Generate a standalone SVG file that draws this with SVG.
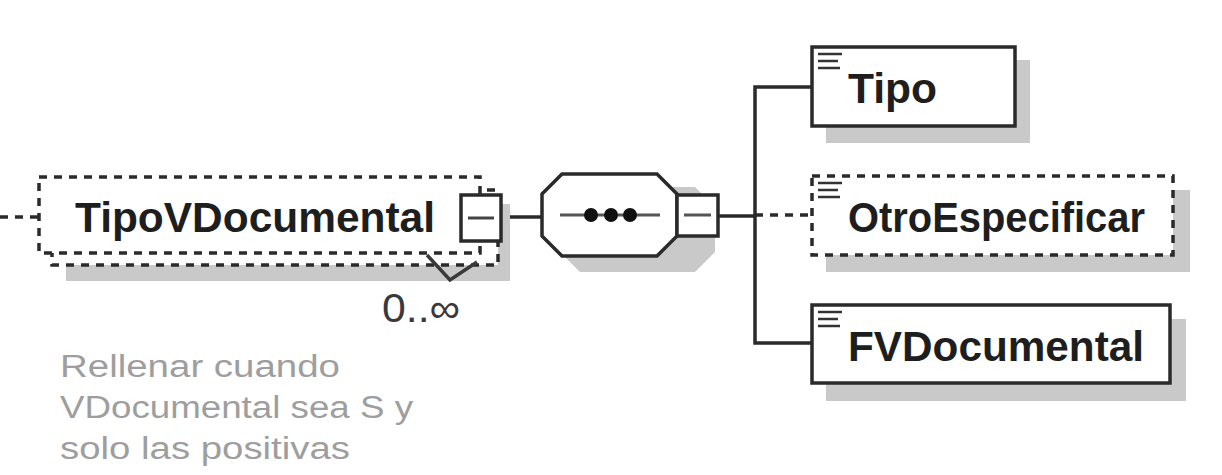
<svg xmlns="http://www.w3.org/2000/svg" width="1222" height="475" viewBox="0 0 1222 475">
<style>
.box{fill:#fff;stroke:#2a2a2a;stroke-width:3.5}
.dash{stroke-dasharray:8 7}
.shadow{fill:#c9c9c9;stroke:none}
.lbl{font-family:"Liberation Sans",Arial,sans-serif;font-weight:bold;font-size:42px;fill:#1e1e1e}
.line{stroke:#2a2a2a;stroke-width:3.5;fill:none}
.icon{stroke:#333;stroke-width:2.5}
.note{font-family:"Liberation Sans",Arial,sans-serif;font-size:31px;fill:#9e9e9e}
</style>
<rect width="1222" height="475" fill="#fff"/>
<g id="connectors">
<line class="line dash" x1="0" y1="217" x2="39" y2="217"/>
<line class="line" x1="501" y1="217" x2="542" y2="217"/>
<line class="line" x1="718" y1="216" x2="755" y2="216"/>
<polyline class="line" points="812,87 755,87 755,343 812,343"/>
<line class="line dash" x1="755" y1="215" x2="812" y2="215"/>
</g>
<g id="TipoVDocumental">
<rect class="shadow" x="66" y="204" width="444" height="77"/>
<rect class="box dash" x="52" y="190" width="446" height="75"/>
<rect class="box dash" x="39" y="177" width="441" height="76"/>
<text class="lbl" x="75" y="232" textLength="360" lengthAdjust="spacingAndGlyphs">TipoVDocumental</text>
<rect class="box" x="461" y="195" width="40" height="46" stroke-width="3"/>
<line x1="468" y1="218" x2="494" y2="218" stroke="#444" stroke-width="3"/>
<path d="M427 255 L450 280 L477 262" fill="none" stroke="#3a3a3a" stroke-width="3.5"/>
<text x="382" y="322" font-family="Liberation Sans,Arial,sans-serif" font-size="40" fill="#3a3a3a" textLength="78" lengthAdjust="spacingAndGlyphs">0..∞</text>
</g>
<g id="sequence">
<path class="shadow" d="M580 187 L695 187 L715 207 L715 252 L695 272 L580 272 L560 252 L560 207 Z"/>
<path class="box" d="M562 174 L657 174 L677 194 L677 236 L657 256 L562 256 L542 236 L542 194 Z"/>
<line x1="560" y1="215" x2="660" y2="215" stroke="#555" stroke-width="3"/>
<circle cx="591" cy="215" r="7" fill="#111"/>
<circle cx="611" cy="215" r="7" fill="#111"/>
<circle cx="630" cy="215" r="7" fill="#111"/>
<rect class="box" x="677" y="195" width="41" height="41" stroke-width="3"/>
<line x1="684" y1="215" x2="711" y2="215" stroke="#555" stroke-width="3"/>
</g>
<g id="Tipo">
<rect class="shadow" x="826" y="60" width="204" height="83"/>
<rect class="box" x="812" y="47" width="203" height="79"/>
<line class="icon" x1="818" y1="54" x2="842" y2="54"/>
<line class="icon" x1="818" y1="61" x2="838" y2="61"/>
<line class="icon" x1="818" y1="68" x2="840" y2="68"/>
<text class="lbl" x="848" y="103" textLength="89" lengthAdjust="spacingAndGlyphs">Tipo</text>
</g>
<g id="OtroEspecificar">
<rect class="shadow" x="826" y="190" width="364" height="82"/>
<rect class="box dash" x="812" y="176" width="361" height="79"/>
<line class="icon" x1="818" y1="183" x2="842" y2="183"/>
<line class="icon" x1="818" y1="190" x2="838" y2="190"/>
<line class="icon" x1="818" y1="197" x2="840" y2="197"/>
<text class="lbl" x="848" y="232" textLength="297" lengthAdjust="spacingAndGlyphs">OtroEspecificar</text>
</g>
<g id="FVDocumental">
<rect class="shadow" x="826" y="319" width="360" height="82"/>
<rect class="box" x="812" y="305" width="358" height="78"/>
<line class="icon" x1="818" y1="312" x2="842" y2="312"/>
<line class="icon" x1="818" y1="319" x2="838" y2="319"/>
<line class="icon" x1="818" y1="326" x2="840" y2="326"/>
<text class="lbl" x="848" y="361" textLength="296" lengthAdjust="spacingAndGlyphs">FVDocumental</text>
</g>
<g id="annotation">
<text class="note" x="60" y="377" textLength="280" lengthAdjust="spacingAndGlyphs">Rellenar cuando</text>
<text class="note" x="60" y="418" textLength="353" lengthAdjust="spacingAndGlyphs">VDocumental sea S y</text>
<text class="note" x="60" y="459" textLength="290" lengthAdjust="spacingAndGlyphs">solo las positivas</text>
</g>
</svg>
